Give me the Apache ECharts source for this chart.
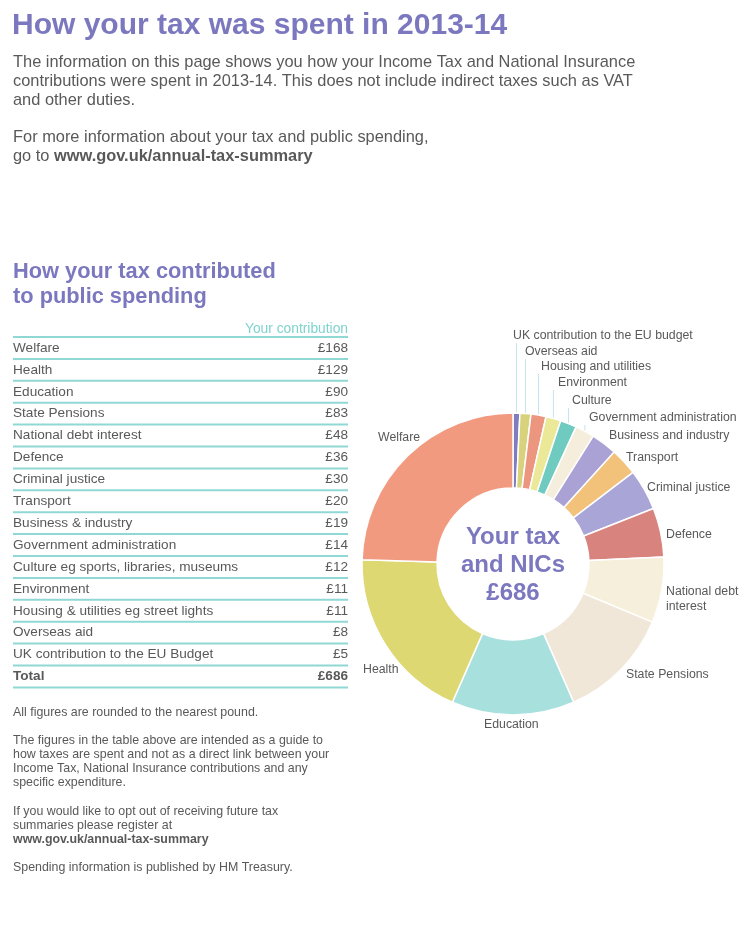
<!DOCTYPE html>
<html>
<head>
<meta charset="utf-8">
<script src="https://cdn.jsdelivr.net/npm/echarts@6/dist/echarts.min.js"></script>
<style>
html,body{margin:0;padding:0;background:#fff;}
#c{width:751px;height:950px;}
</style>
</head>
<body>
<div id="c"></div>
<script>
// ---- data ----
const categories = ['Welfare','Health','Education','State Pensions','National debt interest','Defence','Criminal justice','Transport','Business & industry','Government administration','Culture eg sports, libraries, museums','Environment','Housing & utilities eg street lights','Overseas aid','UK contribution to the EU Budget'];
const values = [168,129,90,83,48,36,30,20,19,14,12,11,11,8,5];
const chartLabels = ['Welfare','Health','Education','State Pensions','National debt\ninterest','Defence','Criminal justice','Transport','Business and industry','Government administration','Culture','Environment','Housing and utilities','Overseas aid','UK contribution to the EU budget'];
const totalValue = 686;

// ---- styles ----
const sliceColors = ['#f29a80','#ddd872','#a8e0dd','#f1e7d8','#f6efdc','#d8837e','#a9a5d6','#f2c27a','#aaa2d4','#f6eedc','#6fcac0','#ebe898','#ec9680','#d8d27c','#7f7cbf'];
const labelPos = { // x, middle y, align
  'Welfare':[378,438,'left'], 'Health':[363,670,'left'], 'Education':[484,725,'left'],
  'State Pensions':[626,675,'left'], 'National debt\ninterest':[666,599,'left'], 'Defence':[666,535,'left'],
  'Criminal justice':[647,488,'left'], 'Transport':[626,458,'left'], 'Business and industry':[609,436,'left'],
  'Government administration':[589,418,'left'], 'Culture':[572,401,'left'], 'Environment':[558,383,'left'],
  'Housing and utilities':[541,367,'left'], 'Overseas aid':[525,352,'left'], 'UK contribution to the EU budget':[513,336,'left']
};
const withLines = ['UK contribution to the EU budget','Overseas aid','Housing and utilities','Environment','Culture','Government administration'];

const PURPLE = '#7b78bf', GREY = '#595959', TEAL = '#8fd8d4';
const FONT = '"Liberation Sans", Arial, Helvetica, sans-serif';

const chart = echarts.init(document.getElementById('c'), null, {renderer:'canvas'});

// pie data in clockwise order from top (reverse of table)
const pieData = [];
for (let i = categories.length - 1; i >= 0; i--) {
  const item = { name: chartLabels[i], value: values[i], itemStyle: { color: sliceColors[i] } };
  if (withLines.indexOf(chartLabels[i]) >= 0) item.labelLine = { show: true };
  pieData.push(item);
}

function txt(text, x, y, size, opts) {
  opts = opts || {};
  return { type:'text', silent:true, style: Object.assign({
    text: text, x: x, y: y, font: (opts.bold?'bold ':'') + size + 'px ' + FONT,
    fill: opts.color || GREY, align: opts.align || 'left', verticalAlign: 'middle',
    textAlign: opts.align || 'left', textVerticalAlign: 'middle'
  }, opts.extra || {}) };
}

const graphics = [];
// title and intro
graphics.push(txt('How your tax was spent in 2013-14', 12, 26, 30, {bold:true, color:PURPLE}));
['The information on this page shows you how your Income Tax and National Insurance',
 'contributions were spent in 2013-14. This does not include indirect taxes such as VAT',
 'and other duties.'].forEach((l, i) => graphics.push(txt(l, 13, 62 + i*19, 16.4)));
graphics.push(txt('For more information about your tax and public spending,', 13, 137, 16.4));
graphics.push({ type:'text', silent:true, style:{
  text:'go to {b|www.gov.uk/annual-tax-summary}', x:13, y:156, font:'16.4px ' + FONT, fill:GREY,
  verticalAlign:'middle', textVerticalAlign:'middle',
  rich:{ b:{ font:'bold 16.4px ' + FONT, fill:GREY, fontWeight:'bold', fontSize:16.4, fontFamily:FONT, color:GREY } } } });

// sub heading
graphics.push(txt('How your tax contributed', 13, 272, 21.8, {bold:true, color:PURPLE}));
graphics.push(txt('to public spending', 13, 297, 21.8, {bold:true, color:PURPLE}));

// table
const rowTop = 337, rowH = 21.9, tableL = 13, tableR = 348, TF = 13.6;
graphics.push(txt('Your contribution', tableR, 329, 13.8, {color:'#7fd3cf', align:'right'}));
const rows = categories.map((c, i) => [c, '£' + values[i], false]);
rows.push(['Total', '£' + totalValue, true]);
for (let i = 0; i <= rows.length; i++) {
  graphics.push({ type:'line', silent:true, shape:{ x1:tableL, y1:rowTop + i*rowH, x2:tableR, y2:rowTop + i*rowH },
    style:{ stroke:TEAL, lineWidth:2 } });
}
rows.forEach((r, i) => {
  const y = rowTop + (i + 0.5) * rowH;
  graphics.push(txt(r[0], tableL, y, TF, {bold:r[2]}));
  graphics.push(txt(r[1], tableR, y, TF, {bold:r[2], align:'right'}));
});

// footnotes
const FN = 12.4;
graphics.push(txt('All figures are rounded to the nearest pound.', 13, 713, FN));
['The figures in the table above are intended as a guide to',
 'how taxes are spent and not as a direct link between your',
 'Income Tax, National Insurance contributions and any',
 'specific expenditure.'].forEach((l, i) => graphics.push(txt(l, 13, 741 + i*14, FN)));
['If you would like to opt out of receiving future tax',
 'summaries please register at'].forEach((l, i) => graphics.push(txt(l, 13, 812 + i*14, FN)));
graphics.push(txt('www.gov.uk/annual-tax-summary', 13, 840, FN, {bold:true}));
graphics.push(txt('Spending information is published by HM Treasury.', 13, 868, FN));

// centre text
['Your tax', 'and NICs', '£' + totalValue].forEach((l, i) =>
  graphics.push(txt(l, 513, 537 + i*28, 24, {bold:true, color:PURPLE, align:'center'})));

chart.setOption({
  animation: false,
  backgroundColor: '#ffffff',
  graphic: { elements: graphics },
  series: [{
    type: 'pie',
    center: [513, 564],
    radius: [76, 151],
    startAngle: 90,
    clockwise: true,
    avoidLabelOverlap: false,
    itemStyle: { borderColor: '#ffffff', borderWidth: 1.5 },
    label: { show: true, position: 'outside', color: GREY, fontFamily: FONT, fontSize: 12.3, lineHeight: 15,
      formatter: '{b}' },
    labelLine: { show: false, lineStyle: { color: '#c6e3ec', width: 1 } },
    labelLayout: function (params) {
      const name = pieData[params.dataIndex].name;
      const p = labelPos[name];
      const out = { x: p[0], y: p[1], align: p[2], verticalAlign: 'middle', hideOverlap: false };
      if (withLines.indexOf(name) >= 0 && params.labelLinePoints && params.labelLinePoints.length) {
        const s = params.labelLinePoints[0];
        out.labelLinePoints = [[s[0], s[1]], [s[0], p[1] + 7]];
      }
      return out;
    },
    emphasis: { disabled: true },
    data: pieData
  }]
});
</script>
</body>
</html>
